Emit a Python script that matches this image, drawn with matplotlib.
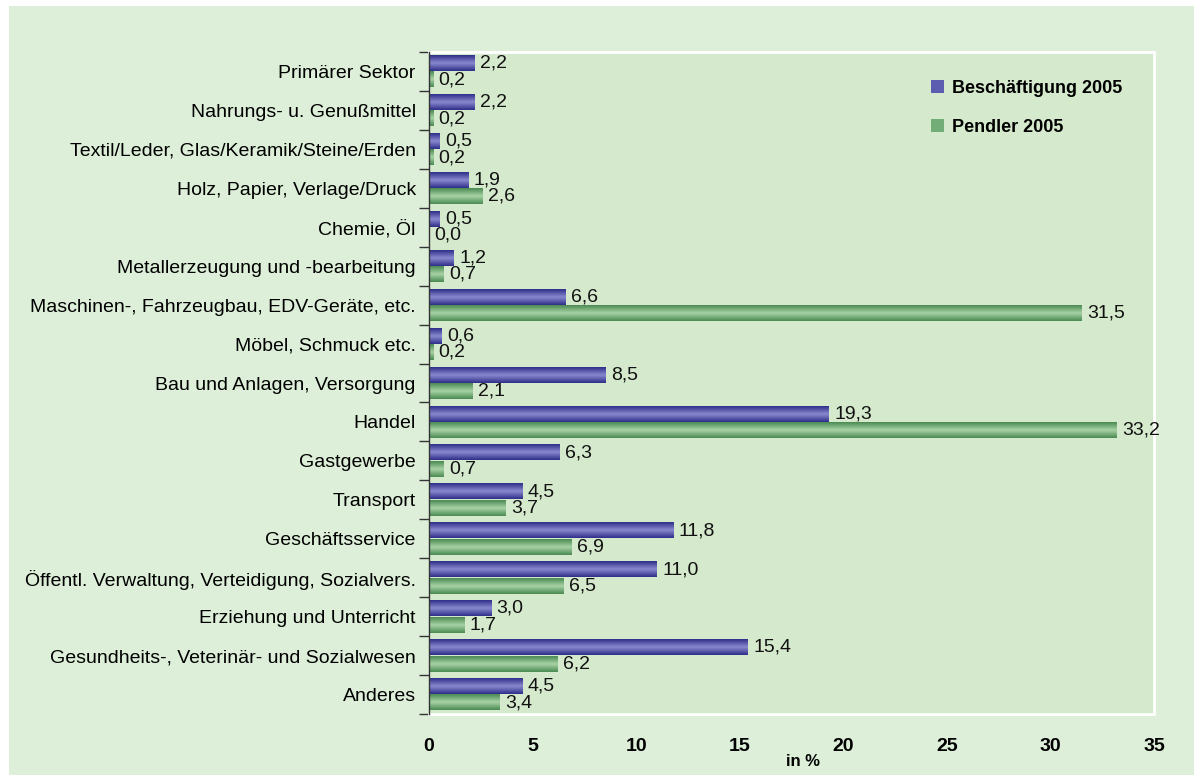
import matplotlib
matplotlib.use("Agg")
import matplotlib.pyplot as plt
import numpy as np
from matplotlib.patches import Rectangle, Patch
from matplotlib.colors import LinearSegmentedColormap

categories = [
    "Primärer Sektor",
    "Nahrungs- u. Genußmittel",
    "Textil/Leder, Glas/Keramik/Steine/Erden",
    "Holz, Papier, Verlage/Druck",
    "Chemie, Öl",
    "Metallerzeugung und -bearbeitung",
    "Maschinen-, Fahrzeugbau, EDV-Geräte, etc.",
    "Möbel, Schmuck etc.",
    "Bau und Anlagen, Versorgung",
    "Handel",
    "Gastgewerbe",
    "Transport",
    "Geschäftsservice",
    "Öffentl. Verwaltung, Verteidigung, Sozialvers.",
    "Erziehung und Unterricht",
    "Gesundheits-, Veterinär- und Sozialwesen",
    "Anderes",
]
beschaeftigung = [2.2, 2.2, 0.5, 1.9, 0.5, 1.2, 6.6, 0.6, 8.5, 19.3, 6.3, 4.5, 11.8, 11.0, 3.0, 15.4, 4.5]
pendler = [0.2, 0.2, 0.2, 2.6, 0.0, 0.7, 31.5, 0.2, 2.1, 33.2, 0.7, 3.7, 6.9, 6.5, 1.7, 6.2, 3.4]
series_names = ["Beschäftigung 2005", "Pendler 2005"]
x_ticks = [0, 5, 10, 15, 20, 25, 30, 35]

plt.rcParams['font.family'] = ['Liberation Sans', 'DejaVu Sans']

W, H = 1194, 775
fig = plt.figure(figsize=(W / 100, H / 100), dpi=100)
fig.patch.set_facecolor('white')
fig.patches.append(Rectangle((9 / W, 0), 1 - 9 / W, 769 / H, transform=fig.transFigure,
                             facecolor='#DDEFD8', edgecolor='none', zorder=-10))

ax = fig.add_axes([429 / W, 61 / H, 725 / W, 662 / H])
ax.set_zorder(1)
ax.set_facecolor('#D5E9CD')

n = len(categories)
y = np.arange(n)
h = 0.4
off = 0.21

blue_cmap = LinearSegmentedColormap.from_list('b', ['#2E2E8A', '#8A8AD0', '#2E2E8A'])
green_cmap = LinearSegmentedColormap.from_list('g', ['#4A8A52', '#A8D2A6', '#4A8A52'])
grad = np.linspace(0, 1, 64).reshape(-1, 1)

bars_b = ax.barh(y - off, beschaeftigung, height=h, color='#5C5CB0', zorder=2, label=series_names[0])
bars_g = ax.barh(y + off, pendler, height=h, color='#72AC76', zorder=2, label=series_names[1])

for bars, cmap in ((bars_b, blue_cmap), (bars_g, green_cmap)):
    for b in bars:
        x0, y0, w, hh = b.get_x(), b.get_y(), b.get_width(), b.get_height()
        if w <= 0:
            continue
        ax.imshow(grad, cmap=cmap, aspect='auto', extent=(x0, x0 + w, y0 + hh, y0),
                  zorder=3, interpolation='bicubic')

for bars, vals in ((bars_b, beschaeftigung), (bars_g, pendler)):
    for b, v in zip(bars, vals):
        ax.annotate(f"{v:.1f}".replace('.', ','), (b.get_width(), b.get_y() + b.get_height() / 2),
                    xytext=(4, 0), textcoords='offset points', va='center', ha='left',
                    fontsize=14, color='#111111', zorder=4)

ax.set_xlim(0, 35)
ax.set_ylim(n - 0.5, -0.5)
ax.set_xticks(x_ticks)
ax.set_xticklabels([str(t) for t in x_ticks], fontweight='bold', fontsize=14)
ax.tick_params(axis='x', length=0, pad=17)

ax.set_yticks(y)
ax.set_yticklabels(categories, fontsize=14)
ax.tick_params(axis='y', which='major', length=0, pad=9.5)
ax.set_yticks(np.arange(n + 1) - 0.5, minor=True)
ax.tick_params(axis='y', which='minor', length=7, width=1, color='#333333', direction='out')

for s in ('top', 'right', 'bottom'):
    ax.spines[s].set_color('white')
    ax.spines[s].set_linewidth(2)
ax.spines['left'].set_color('#333333')
ax.spines['left'].set_linewidth(1)
ax.spines['left'].set_zorder(5)

fig.text(803 / W, 1 - 761 / H, "in %", fontweight='bold', fontsize=12, ha='center', va='center')

handles = [Patch(facecolor='#5C5CB0', edgecolor='none'), Patch(facecolor='#72AC76', edgecolor='none')]
leg = fig.legend(handles, series_names, loc='upper left', bbox_to_anchor=(931 / W, 1 - 80 / H),
                 frameon=False, prop={'weight': 'bold', 'size': 13}, handlelength=0.7, handleheight=0.7,
                 labelspacing=1.2, handletextpad=0.45, borderpad=0, borderaxespad=0)
leg.set_zorder(5)

fig.savefig('out.png', dpi=100, facecolor=fig.get_facecolor())
